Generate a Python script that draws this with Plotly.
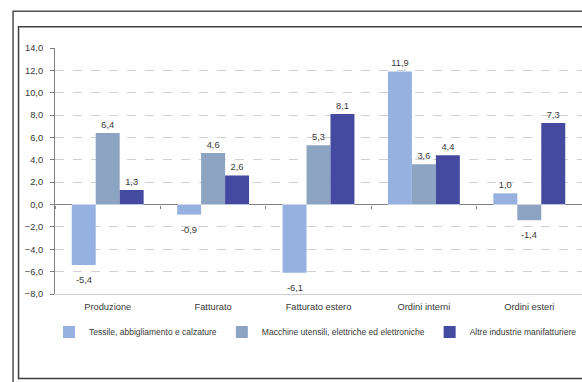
import plotly.graph_objects as go

categories = ["Produzione", "Fatturato", "Fatturato estero", "Ordini interni", "Ordini esteri"]
series_names = [
    "Tessile, abbigliamento e calzature",
    "Macchine utensili, elettriche ed elettroniche",
    "Altre industrie manifatturiere",
]
tessile = [-5.4, -0.9, -6.1, 11.9, 1.0]
macchine = [6.4, 4.6, 5.3, 3.6, -1.4]
altre = [1.3, 2.6, 8.1, 4.4, 7.3]
colors = ["#96B1DF", "#8CA3C2", "#454AA1"]

W, H = 582, 382
L, R, T, B = 54.5, 0, 47.7, 88
pw = W - L - R
ph = H - T - B
BARGAP = 0.318

def px_x(x):
    return (x - L) / pw

def px_y(y):
    return (H - B - y) / ph

def fmt(v):
    return f"{v:.1f}".replace(".", ",")

FONT = "Liberation Sans"
TXT = "#383838"
fig = go.Figure()
all_series = [tessile, macchine, altre]
nser = len(all_series)
bw = (1 - BARGAP) / nser
for si, (name, vals, col) in enumerate(zip(series_names, all_series, colors)):
    fig.add_trace(go.Bar(
        x=categories, y=vals, name=name,
        marker=dict(color=col, line=dict(width=0)),
        text=[fmt(v) if v >= 0 else "" for v in vals],
        texttemplate="%{text}", textposition="outside",
        textfont=dict(size=9.3, color=TXT, family=FONT),
        cliponaxis=False,
    ))
    # labels of negative bars, placed below the bar end
    for ci, v in enumerate(vals):
        if v < 0:
            fig.add_annotation(
                x=ci + (si - (nser - 1) / 2) * bw, y=v, xref="x", yref="y",
                text=fmt(v), showarrow=False, yanchor="top", yshift=-8,
                font=dict(size=9.3, color=TXT, family=FONT),
            )

fig.update_layout(
    width=W, height=H,
    margin=dict(l=L, r=R, t=T, b=B, pad=0),
    paper_bgcolor="white", plot_bgcolor="white",
    separators=",.",
    barmode="group", bargap=BARGAP, bargroupgap=0,
    showlegend=True,
    legend=dict(orientation="h", x=px_x(52), xanchor="left",
                y=px_y(332), yanchor="middle",
                font=dict(size=8.5, color=TXT, family=FONT),
                itemwidth=30, tracegroupgap=0, bgcolor="rgba(0,0,0,0)"),
    font=dict(family=FONT, size=9, color=TXT),
    xaxis=dict(type="category", showline=True, linecolor="#D0D0D0", linewidth=1,
               ticks="", showgrid=False, ticklabelstandoff=4, tickangle=0,
               tickfont=dict(size=9.3, color=TXT, family=FONT)),
    xaxis2=dict(type="category", matches="x", overlaying="x", anchor="free",
                position=8 / 22,
                showticklabels=False, ticks="outside", tickson="boundaries",
                ticklen=3, tickcolor="#808080", showgrid=False, showline=False),
    yaxis=dict(range=[-8, 14], dtick=2, tickformat=".1f",
               showline=True, linecolor="#808080", linewidth=1,
               ticks="outside", ticklen=4, tickcolor="#808080",
               ticklabelstandoff=5,
               showgrid=True, gridcolor="#D0D0D0", griddash="dash", gridwidth=1,
               zeroline=True, zerolinecolor="#808080", zerolinewidth=1,
               tickfont=dict(size=9.3, color=TXT, family=FONT)),
)
fig.add_trace(go.Bar(x=categories, y=[0] * 5, xaxis="x2", showlegend=False,
                     hoverinfo="skip", marker=dict(color="rgba(0,0,0,0)")))

# frames
fig.add_shape(type="rect", xref="paper", yref="paper",
              x0=px_x(12.5), x1=px_x(600), y0=px_y(400), y1=px_y(11),
              line=dict(color="#505050", width=1.5), layer="above")
fig.add_shape(type="rect", xref="paper", yref="paper",
              x0=px_x(18), x1=px_x(600), y0=px_y(378.5), y1=px_y(26.5),
              line=dict(color="#404040", width=1.5), layer="above")

fig.write_html("out.html")
